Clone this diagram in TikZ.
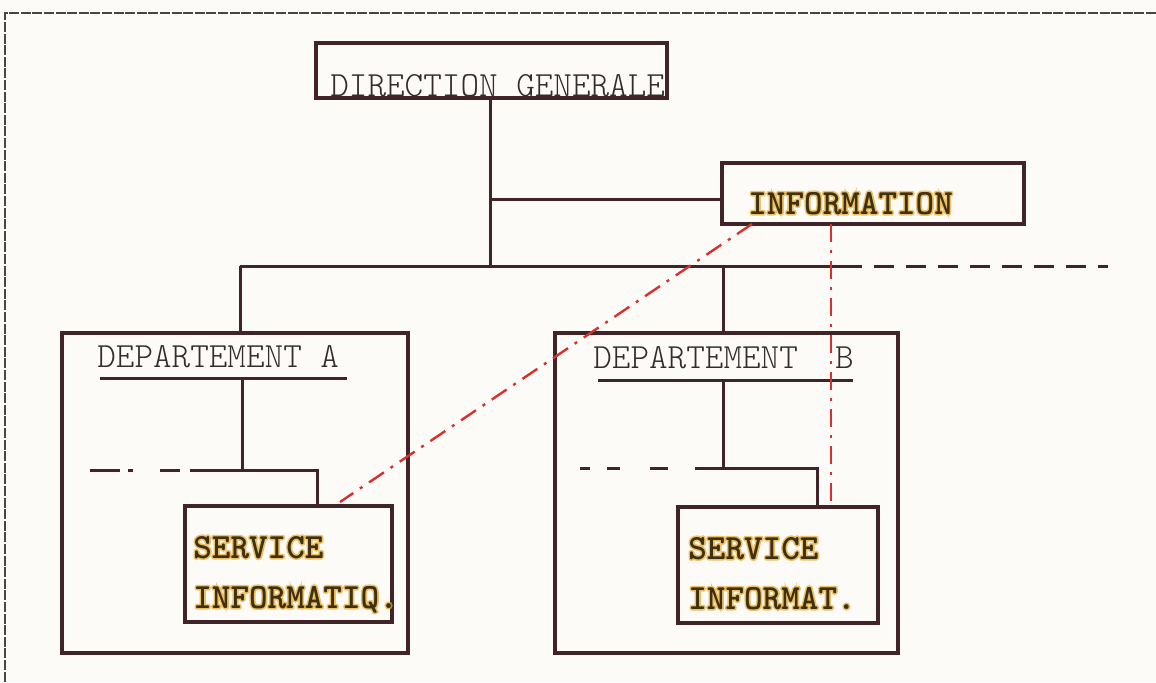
\documentclass[tikz,border=0pt]{standalone}
\usepackage{fontspec}
\newfontfamily\typefont{lmmonolt10-regular.otf}
\newfontfamily\typebold{lmmonolt10-bold.otf}
\newfontfamily\typehalo[FakeBold=9]{lmmonolt10-bold.otf}
\usetikzlibrary{calc}
\definecolor{paper}{HTML}{FCFBF7}
\definecolor{ink}{HTML}{402428}
\definecolor{typeink}{HTML}{342C2C}
\definecolor{boldink}{HTML}{3E3112}
\definecolor{marker}{HTML}{E8A92E}
\definecolor{redpen}{HTML}{D8302E}
\definecolor{frameink}{HTML}{4A4444}
\tikzset{
  orgbox/.style={draw=ink, line width=1.7pt, rectangle, inner sep=0pt},
  link/.style={draw=ink, line width=1.5pt},
  linkdash/.style={draw=ink, line width=1.5pt},
  redlink/.style={draw=redpen, line width=1.2pt,
    dash pattern=on 9pt off 4pt on 1.5pt off 4pt},
  plain/.style={inner sep=0pt, anchor=base west, text=typeink,
    font=\typefont\fontsize{17.7}{20}\selectfont},
  strong/.style={inner sep=0pt, anchor=base west, text=boldink,
    font=\typebold\fontsize{17.7}{20}\selectfont},
  halo/.style={inner sep=0pt, anchor=base west, text=marker, opacity=0.7,
    font=\typehalo\fontsize{17.7}{20}\selectfont},
  framedash/.style={draw=frameink, line width=0.7pt,
    dash pattern=on 5pt off 0.8pt}
}
% marker-highlighted typed word: halo, then the letters
\newcommand\markedword[3]{%
  \node[halo] (#1h) at (#2) {#3};
  \node[strong] (#1) at (#2) {#3};
}
\begin{document}
\begin{tikzpicture}[x=0.5pt,y=-0.5pt]
  % sheet and its edges
  \fill[paper] (0,0) rectangle (1156,682);
  \useasboundingbox (0,0) rectangle (1156,682);
  \coordinate (fTL) at (5,13);
  \coordinate (fTR) at (1156,13);
  \coordinate (fBL) at (5,682);
  \draw[framedash] (fTR) -- (fTL) -- (fBL);

  % boxes
  \node[orgbox, minimum width=175.5pt, minimum height=27.5pt] (dg) at (491.5,70.5) {};
  \node[orgbox, minimum width=151pt, minimum height=30.5pt] (info) at (873,193.5) {};
  \node[orgbox, minimum width=173pt, minimum height=160pt] (depA) at (235,493) {};
  \node[orgbox, minimum width=171.5pt, minimum height=160pt] (depB) at (726.5,493) {};
  \node[orgbox, minimum width=103.5pt, minimum height=58pt] (srvA) at (288.5,564) {};
  \node[orgbox, minimum width=100pt, minimum height=58pt] (srvB) at (778,565) {};

  % typed labels
  \node[plain] (dgt) at (330,96) {DIRECTION GENERALE};
  \node[plain] (depAt) at (97,367) {DEPARTEMENT A};
  \node[plain] (depBt) at (593,368) {DEPARTEMENT\ \ B};

  % highlighted labels
  \markedword{infot}{748,214}{INFORMATION}
  \markedword{srvAa}{193,558}{SERVICE}
  \markedword{srvAb}{193,608}{INFORMATIQ.}
  \markedword{srvBa}{688,559}{SERVICE}
  \markedword{srvBb}{688,609}{INFORMAT.}

  % main hierarchy
  \coordinate (trunk) at (490,266);
  \coordinate (busL) at (240,266);
  \coordinate (busB) at (723,266);
  \coordinate (busR) at (842,266);
  \coordinate (busEnd) at (1108,266);
  \coordinate (staff) at (490,199);
  \draw[link] (dg.south -| trunk) -- (trunk);
  \draw[link] (staff) -- (staff -| info.west);
  \draw[link] (busL) -- (busR);
  \draw[linkdash, dash pattern=on 10pt off 6pt] (busR) -- (busEnd);
  \draw[link] (busL) -- (busL |- depA.north);
  \draw[link] (busB) -- (busB |- depB.north);

  % department A
  \coordinate (ulA1) at (100,378);
  \coordinate (ulA2) at (347,378);
  \coordinate (stemA) at (242,378);
  \coordinate (rowA) at (242,470);
  \coordinate (rowAl) at (90,470);
  \coordinate (rowAm) at (190,470);
  \coordinate (rowAr) at (317,470);
  \draw[link] (ulA1) -- (ulA2);
  \draw[link] (stemA) -- (rowA);
  \draw[linkdash, dash pattern=on 15pt off 4pt on 2.5pt off 13.5pt on 10pt off 10pt] (rowAl) -- (rowAm);
  \draw[link] (rowAm) -- (rowAr) -- (rowAr |- srvA.north);

  % department B
  \coordinate (ulB1) at (598,380);
  \coordinate (ulB2) at (853,380);
  \coordinate (stemB) at (723,380);
  \coordinate (rowB) at (723,468);
  \coordinate (rowBl) at (580,468);
  \coordinate (rowBm) at (695,468);
  \coordinate (rowBr) at (817,468);
  \draw[link] (ulB1) -- (ulB2);
  \draw[link] (stemB) -- (rowB);
  \draw[linkdash, dash pattern=on 5pt off 8.5pt on 6.5pt off 15pt on 9pt off 13.5pt] (rowBl) -- (rowBm);
  \draw[link] (rowBm) -- (rowBr) -- (rowBr |- srvB.north);

  % information links in red pencil
  \coordinate (infoA) at (752,224);
  \coordinate (srvAin) at (340,502);
  \coordinate (infoB) at (831,224);
  \draw[redlink] (infoA) -- (srvAin);
  \draw[redlink] (infoB) -- (infoB |- srvB.north);
\end{tikzpicture}
\end{document}
